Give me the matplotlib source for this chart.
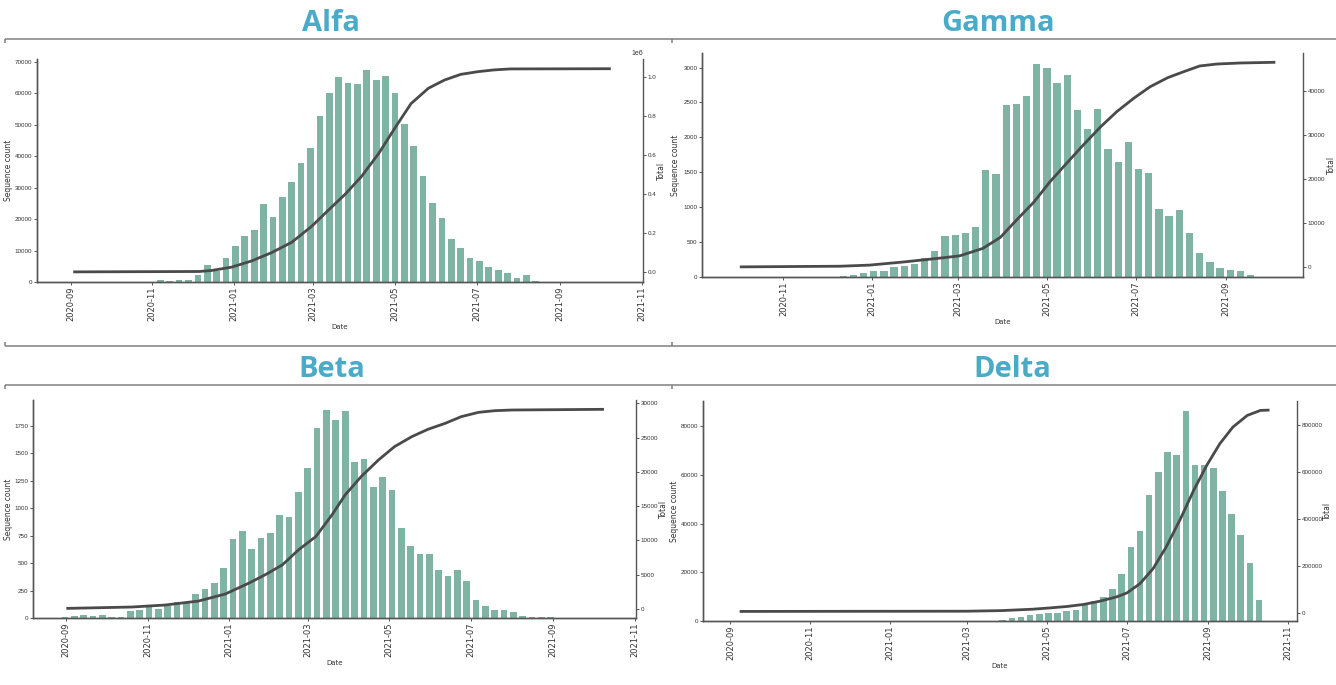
import numpy as np
import matplotlib
matplotlib.use("Agg")
import matplotlib.pyplot as plt
import matplotlib.dates as mdates
from matplotlib.lines import Line2D

# ---------------- data ----------------
titles = ["Alfa", "Gamma", "Beta", "Delta"]

# weekly sequence counts (bars); first bar date, then one bar per week
alfa_bar_start = "2020-11-07"
alfa_counts = [500, 400, 500, 500, 2300, 5500, 3500, 7700, 11300, 14700, 16600,
               24900, 20700, 27100, 31800, 37900, 42600, 52700, 59900, 65100,
               63100, 62800, 67300, 64200, 65400, 59900, 50100, 43200, 33600,
               25100, 20300, 13600, 10800, 7700, 6800, 4900, 3700, 3000, 1400,
               2300, 300, 100, 50]

gamma_bar_start = "2020-12-12"
gamma_counts = [10, 33, 62, 81, 81, 150, 155, 190, 272, 377, 583, 602, 635, 717,
                1529, 1481, 2460, 2474, 2589, 3057, 2990, 2780, 2900, 2389, 2116,
                2412, 1830, 1648, 1935, 1553, 1495, 979, 879, 955, 635, 344, 215,
                129, 105, 86, 24]

beta_bar_start = "2020-08-31"
beta_counts = [9, 21, 27, 15, 27, 12, 12, 61, 70, 97, 82, 106, 149, 149, 218, 264,
               316, 458, 716, 795, 625, 731, 771, 941, 925, 1144, 1365, 1735,
               1893, 1805, 1887, 1426, 1450, 1198, 1289, 1168, 819, 652, 582, 582,
               440, 379, 440, 334, 167, 112, 76, 70, 52, 15, 9, 6, 9, 3]

delta_bar_start = "2021-03-21"
delta_counts = [200, 550, 1100, 1500, 2460, 3000, 3300, 3400, 4100, 4500, 6800,
                8100, 9800, 13300, 19400, 30400, 36900, 51600, 61100, 69300,
                68000, 86200, 63900, 64100, 62900, 53200, 43800, 35400, 23900,
                8500]

# cumulative totals (line), read at these dates
alfa_total_dates = ["2020-09-03", "2020-12-06", "2020-12-15", "2020-12-30",
                    "2021-01-14", "2021-01-29", "2021-02-13", "2021-02-28",
                    "2021-03-12", "2021-03-25", "2021-04-06", "2021-04-19",
                    "2021-05-01", "2021-05-13", "2021-05-26", "2021-06-07",
                    "2021-06-19", "2021-07-02", "2021-07-14", "2021-07-26",
                    "2021-10-09"]
alfa_total = [0, 2000, 7000, 24000, 56000, 99000, 152000, 235000, 315000,
              400000, 490000, 610000, 740000, 865000, 944000, 986000, 1015000,
              1029000, 1038000, 1043000, 1044000]

gamma_total_dates = ["2020-10-02", "2020-12-10", "2020-12-30", "2021-01-22",
                     "2021-02-14", "2021-03-02", "2021-03-18", "2021-03-30",
                     "2021-04-10", "2021-04-22", "2021-05-03", "2021-05-15",
                     "2021-05-26", "2021-06-07", "2021-06-18", "2021-06-30",
                     "2021-07-11", "2021-07-23", "2021-08-03", "2021-08-14",
                     "2021-08-26", "2021-09-11", "2021-10-05"]
gamma_total = [100, 250, 500, 1200, 2000, 2600, 4300, 6800, 10700, 14800, 19400,
               23800, 27800, 31960, 35370, 38500, 41050, 43100, 44460, 45760,
               46210, 46440, 46600]

beta_total_dates = ["2020-09-01", "2020-10-20", "2020-11-14", "2020-12-09",
                    "2020-12-29", "2021-01-16", "2021-01-28", "2021-02-10",
                    "2021-02-22", "2021-03-07", "2021-03-19", "2021-03-29",
                    "2021-04-10", "2021-04-23", "2021-05-05", "2021-05-18",
                    "2021-05-30", "2021-06-12", "2021-06-24", "2021-07-07",
                    "2021-07-19", "2021-08-01", "2021-10-09"]
beta_total = [90, 290, 580, 1160, 2180, 3790, 4990, 6450, 8630, 10570, 13700,
              16650, 19320, 21750, 23690, 25150, 26210, 27090, 28060, 28690,
              28930, 29030, 29130]

delta_total_dates = ["2020-09-08", "2021-03-01", "2021-03-27", "2021-04-20",
                     "2021-05-03", "2021-05-16", "2021-05-29", "2021-06-10",
                     "2021-06-23", "2021-07-01", "2021-07-11", "2021-07-21",
                     "2021-07-31", "2021-08-11", "2021-08-21", "2021-08-31",
                     "2021-09-10", "2021-09-20", "2021-10-01", "2021-10-11",
                     "2021-10-18"]
delta_total = [5000, 6000, 8500, 14500, 20000, 26000, 35000, 48400, 66900, 84000,
               123800, 187900, 280400, 401400, 522400, 629200, 721700, 792900,
               842700, 864000, 865500]

# ---------------- styling / layout ----------------
W, H = 1336, 685
BAR_COLOR = "#7fb3a3"
LINE_COLOR = "#4a4a4a"
TITLE_COLOR = "#4aabc8"
SPINE_COLOR = "#555555"
TICK_TEXT = "#333333"
FRAME_COLOR = "#808080"
YTICK_FONT = ["Liberation Sans", "DejaVu Sans"]

fig = plt.figure(figsize=(W / 100, H / 100), dpi=100)
fig.patch.set_facecolor("white")


def dn(s):
    return mdates.date2num(np.datetime64(s, "D"))


def panel(box, bar_start, counts, tdates, totals, xlim, yl, yr, lab_left, lab_right):
    l, r, t, b = box
    ax = fig.add_axes([l / W, 1 - b / H, (r - l) / W, (b - t) / H])
    bar_days = np.datetime64(bar_start, "D") + np.arange(len(counts)) * np.timedelta64(7, "D")
    ax.bar(mdates.date2num(bar_days), counts, width=5.0, color=BAR_COLOR,
           linewidth=0, zorder=2)
    ax.set_xlim(dn(xlim[0]), dn(xlim[1]))
    ax.set_ylim(*yl)
    ax2 = ax.twinx()
    ax2.plot(mdates.date2num(np.array(tdates, dtype="datetime64[D]")), totals,
             color=LINE_COLOR, lw=2.0, solid_capstyle="butt",
             solid_joinstyle="round", zorder=3)
    ax2.set_ylim(*yr)
    ax2.set_xlim(dn(xlim[0]), dn(xlim[1]))

    ax.xaxis.set_major_locator(mdates.MonthLocator(bymonth=[1, 3, 5, 7, 9, 11]))
    ax.xaxis.set_major_formatter(mdates.DateFormatter("%Y-%m"))

    for a in (ax, ax2):
        a.spines["top"].set_visible(False)
        for s in a.spines.values():
            s.set_color(SPINE_COLOR)
            s.set_linewidth(1.0)
        a.tick_params(length=2.2, width=0.7, colors=SPINE_COLOR,
                      labelcolor=TICK_TEXT, pad=1.2)
    ax.spines["right"].set_visible(False)
    ax.tick_params(axis="x", labelsize=6, labelrotation=90)
    ax.tick_params(axis="y", labelsize=4.5)
    ax2.tick_params(axis="y", labelsize=4.5)
    for lab in ax.get_yticklabels() + ax2.get_yticklabels():
        lab.set_family(YTICK_FONT)
    off = ax2.yaxis.get_offset_text()
    off.set_fontsize(5)
    off.set_color(TICK_TEXT)
    off.set_family(YTICK_FONT)

    ax.set_ylabel("Sequence count", fontsize=5.5, color=TICK_TEXT)
    ax2.set_ylabel("Total", fontsize=5.5, color=TICK_TEXT)
    ax.set_xlabel("Date", fontsize=5, labelpad=2, color=TICK_TEXT)
    # label anchor positions in figure pixels (right edge of left label,
    # left edge of right label)
    ax.yaxis.set_label_coords((lab_left - l) / (r - l), 0.5)
    ax2.yaxis.set_label_coords((lab_right - l) / (r - l), 0.5)
    return ax, ax2


panel((37, 643, 59, 282), alfa_bar_start, alfa_counts,
      alfa_total_dates, alfa_total, ("2020-08-07", "2021-11-02"),
      (0, 70860), (-52000, 1094000), 13, 657)
panel((702, 1303, 53, 277), gamma_bar_start, gamma_counts,
      gamma_total_dates, gamma_total, ("2020-09-06", "2021-10-24"),
      (0, 3209), (-2200, 48710), 680, 1327)
panel((33, 636, 400, 618), beta_bar_start, beta_counts,
      beta_total_dates, beta_total, ("2020-08-07", "2021-11-02"),
      (0, 1987), (-1311, 30490), 13, 659)
panel((703, 1297, 401, 621), delta_bar_start, delta_counts,
      delta_total_dates, delta_total, ("2020-08-11", "2021-11-08"),
      (0, 90300), (-35900, 904300), 679, 1323)

# panel titles
title_pos = [(331, 31), (998, 31), (332, 377), (1012, 377)]
for t, (x, y) in zip(titles, title_pos):
    fig.text(x / W, 1 - y / H, t, ha="center", va="baseline",
             fontsize=21, fontweight="bold", family=["Open Sans", "DejaVu Sans"],
             color=TITLE_COLOR)


# frame lines between the panels
def fline(x0, y0, x1, y1):
    fig.add_artist(Line2D([x0 / W, x1 / W], [1 - y0 / H, 1 - y1 / H],
                          transform=fig.transFigure, color=FRAME_COLOR,
                          lw=1.1, solid_capstyle="butt"))


for y, dy in ((38.5, 4), (346, -4), (385, 4)):
    fline(5, y, W, y)
    for x in (5, 672):
        fline(x, y, x, y + dy)

fig.savefig("out.png", dpi=100, facecolor="white")
